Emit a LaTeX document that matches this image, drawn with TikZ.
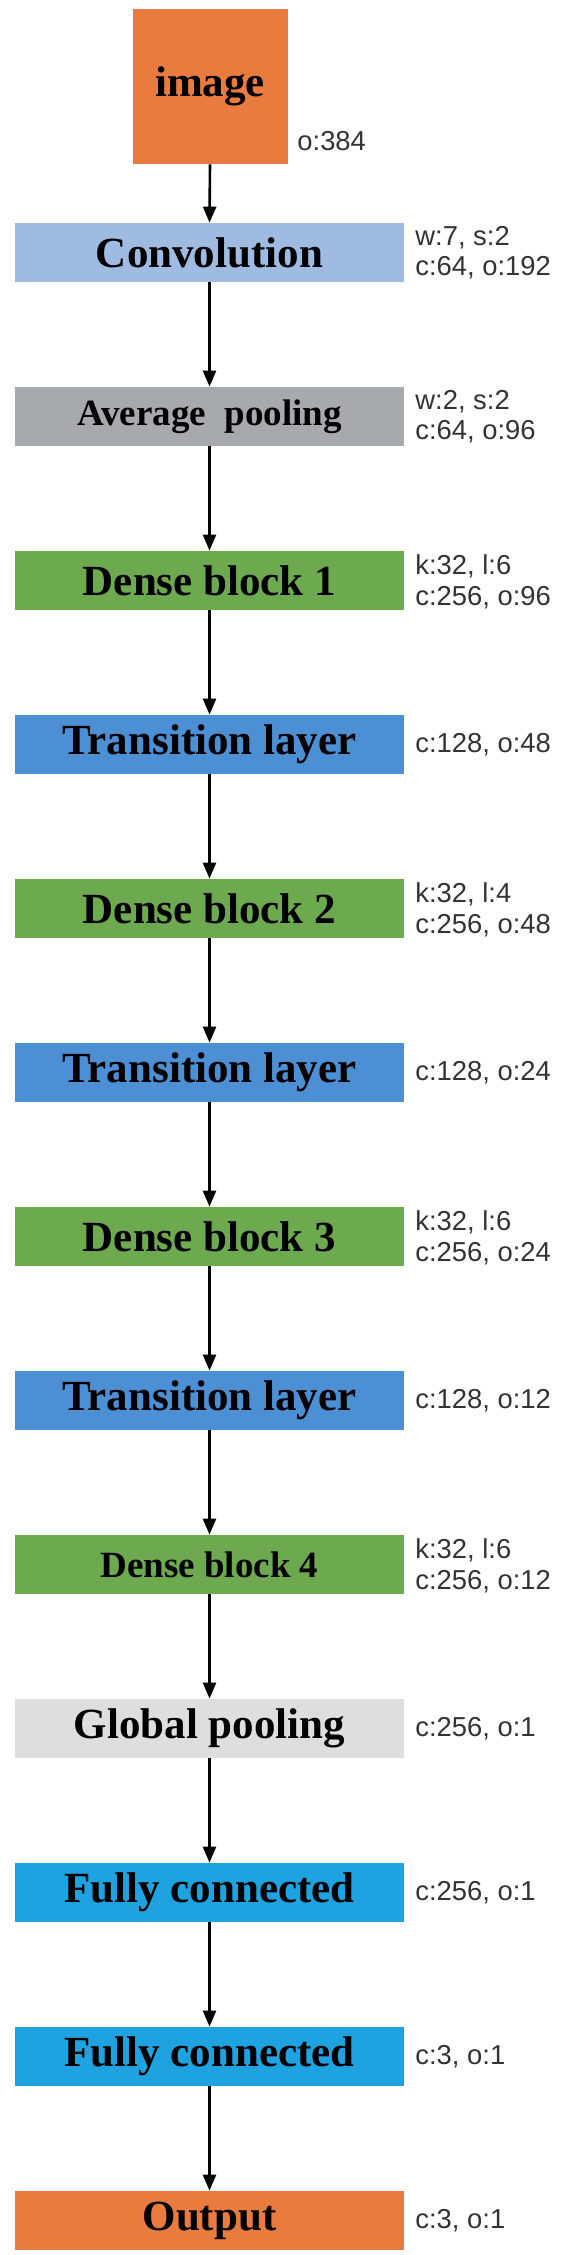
\documentclass[tikz,border=0pt]{standalone}
\usepackage{fontspec}
\setmainfont{Liberation Serif}
\newfontfamily\labfont{Liberation Sans}
\usetikzlibrary{arrows.meta}
\definecolor{cOrange}{HTML}{EA7B3E}
\definecolor{cConv}{HTML}{A0BBE2}
\definecolor{cAvg}{HTML}{A7A9AD}
\definecolor{cDense}{HTML}{6DAA4F}
\definecolor{cTrans}{HTML}{4C8FD5}
\definecolor{cGlob}{HTML}{DEDEDF}
\definecolor{cFC}{HTML}{1EA2E0}
\definecolor{cLab}{HTML}{333333}
\tikzset{
  layerbox/.style={rectangle, draw=none, inner sep=0pt, minimum width=194.5pt, minimum height=29.5pt,
    font=\fontsize{21.5pt}{24pt}\selectfont\bfseries},
  smallbox/.style={layerbox, font=\fontsize{18.5pt}{22pt}\selectfont\bfseries},
  lab/.style={anchor=west, inner sep=0pt, align=left, text=cLab,
    font=\labfont\fontsize{13.7pt}{15.3pt}\selectfont},
  flow/.style={line width=1.3pt, -{Triangle[width=6.5pt,length=8pt]}}
}
\begin{document}
\begin{tikzpicture}[x=0.5pt,y=-0.5pt]
\useasboundingbox (0,0) rectangle (564,2255);
\fill[white] (0,0) rectangle (564,2255);
% image
\node[layerbox, fill=cOrange, minimum width=77.5pt, minimum height=77.5pt] (img) at (210,86.5) {image};
\node[lab] (limg) at (297,141) {o:384};
% layers
\node[layerbox, fill=cConv]  (b0)  at (209.5,252.5)  {Convolution};
\node[smallbox, fill=cAvg]   (b1)  at (209.5,416.5)  {Average\ \ pooling};
\node[layerbox, fill=cDense] (b2)  at (209.5,580.5)  {Dense block 1};
\node[layerbox, fill=cTrans] (b3)  at (209.5,744.5)  {Transition layer};
\node[layerbox, fill=cDense] (b4)  at (209.5,908.5)  {Dense block 2};
\node[layerbox, fill=cTrans] (b5)  at (209.5,1072.5) {Transition layer};
\node[layerbox, fill=cDense] (b6)  at (209.5,1236.5) {Dense block 3};
\node[layerbox, fill=cTrans] (b7)  at (209.5,1400.5) {Transition layer};
\node[smallbox, fill=cDense] (b8)  at (209.5,1564.5) {Dense block 4};
\node[layerbox, fill=cGlob]  (b9)  at (209.5,1728.5) {Global pooling};
\node[layerbox, fill=cFC]    (b10) at (209.5,1892.5) {Fully connected};
\node[layerbox, fill=cFC]    (b11) at (209.5,2056.5) {Fully connected};
\node[layerbox, fill=cOrange](b12) at (209.5,2220.5) {Output};
% labels
\node[lab] (l0)  at (415,252.5)  {w:7, s:2\\c:64, o:192};
\node[lab] (l1)  at (415,416.5)  {w:2, s:2\\c:64, o:96};
\node[lab] (l2)  at (415,582)    {k:32, l:6\\c:256, o:96};
\node[lab] (l3)  at (415,744.5)  {c:128, o:48};
\node[lab] (l4)  at (415,910)    {k:32, l:4\\c:256, o:48};
\node[lab] (l5)  at (415,1072.5) {c:128, o:24};
\node[lab] (l6)  at (415,1238)   {k:32, l:6\\c:256, o:24};
\node[lab] (l7)  at (415,1400.5) {c:128, o:12};
\node[lab] (l8)  at (415,1566)   {k:32, l:6\\c:256, o:12};
\node[lab] (l9)  at (415,1728.5) {c:256, o:1};
\node[lab] (l10) at (415,1892.5) {c:256, o:1};
\node[lab] (l11) at (415,2056.5) {c:3, o:1};
\node[lab] (l12) at (415,2220.5) {c:3, o:1};
% arrows
\draw[flow] (img.south) -- (b0.north);
\foreach \a/\b in {b0/b1,b1/b2,b2/b3,b3/b4,b4/b5,b5/b6,b6/b7,b7/b8,b8/b9,b9/b10,b10/b11,b11/b12}
  \draw[flow] (\a.south) -- (\b.north);
\end{tikzpicture}
\end{document}
